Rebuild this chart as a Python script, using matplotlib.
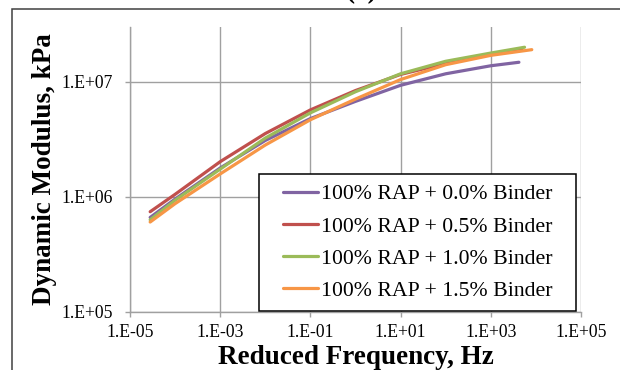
import matplotlib
matplotlib.use('Agg')
import matplotlib.pyplot as plt
from matplotlib.patches import Rectangle

plt.rcParams['font.family'] = ['Liberation Serif', 'DejaVu Serif']

# reduced frequency (Hz) and dynamic modulus (kPa)
freq_00 = [2.8e-5, 1e-4, 1e-3, 1e-2, 1e-1, 1, 10, 100, 1000, 4.2e3]
mod_00 = [6.61e5, 9.55e5, 1.78e6, 3.09e6, 4.79e6, 6.76e6, 9.33e6, 1.175e7, 1.38e7, 1.48e7]

freq_05 = [2.8e-5, 1e-4, 1e-3, 1e-2, 1e-1, 1, 10, 100, 1000, 5.0e3]
mod_05 = [7.41e5, 1.05e6, 2.02e6, 3.55e6, 5.7e6, 8.4e6, 1.16e7, 1.445e7, 1.74e7, 1.95e7]

freq_10 = [2.8e-5, 1e-4, 1e-3, 1e-2, 1e-1, 1, 10, 100, 1000, 5.6e3]
mod_10 = [6.31e5, 9.33e5, 1.74e6, 3.24e6, 5.37e6, 8.2e6, 1.175e7, 1.51e7, 1.78e7, 2.0e7]

freq_15 = [2.8e-5, 1e-4, 1e-3, 1e-2, 1e-1, 1, 10, 100, 1000, 8.1e3]
mod_15 = [6.03e5, 8.71e5, 1.58e6, 2.82e6, 4.68e6, 7.08e6, 1.047e7, 1.41e7, 1.70e7, 1.905e7]

labels = ['100% RAP + 0.0% Binder', '100% RAP + 0.5% Binder',
          '100% RAP + 1.0% Binder', '100% RAP + 1.5% Binder']
colors = ['#8064A2', '#C0504D', '#9BBB59', '#F79646']

xticks = [1e-5, 1e-3, 1e-1, 1e1, 1e3, 1e5]
xticklabels = ['1.E-05', '1.E-03', '1.E-01', '1.E+01', '1.E+03', '1.E+05']
yticks = [1e5, 1e6, 1e7]
yticklabels = ['1.E+05', '1.E+06', '1.E+07']

fig = plt.figure(figsize=(6.2, 3.7), dpi=100)
ax = fig.add_axes([130/620, 1-311.7/370, 451/620, 284.7/370])

series = [(freq_00, mod_00), (freq_05, mod_05), (freq_10, mod_10), (freq_15, mod_15)]
for (f, m), lab, c in zip(series, labels, colors):
    ax.plot(f, m, color=c, lw=2.3, label=lab, solid_capstyle='round',
            solid_joinstyle='round', zorder=3)

ax.set_xscale('log')
ax.set_yscale('log')
ax.set_xlim(1e-5, 1e5)
ax.set_ylim(1e5, 3e7)
ax.set_xticks(xticks)
ax.set_xticklabels(xticklabels)
ax.set_yticks(yticks)
ax.set_yticklabels(yticklabels)
ax.minorticks_off()
ax.grid(True, color='#A0A0A0', lw=1.0)
ax.set_axisbelow(True)
for s in ['top', 'right']:
    ax.spines[s].set_visible(False)
for s in ['left', 'bottom']:
    ax.spines[s].set_color('#A0A0A0')
    ax.spines[s].set_linewidth(1.0)
ax.tick_params(axis='both', direction='out', length=3.6, color='#A0A0A0',
               labelsize=12.7, width=1.0)
ax.tick_params(axis='y', pad=9)
ax.tick_params(axis='x', pad=5)

ax.set_xlabel('Reduced Frequency, Hz', fontsize=19.5, fontweight='bold', labelpad=3)
ax.set_ylabel('Dynamic Modulus, kPa', fontsize=19.5, fontweight='bold', labelpad=3)

# legend box
box = Rectangle((0.286, 0.0025), 0.703, 0.4815, transform=ax.transAxes,
                facecolor='white', edgecolor='black', lw=1.1, zorder=4)
ax.add_patch(box)
leg = ax.legend(loc='center', bbox_to_anchor=(0.6375, 0.243), frameon=False,
                fontsize=15.7, handlelength=1.6, handletextpad=0.15,
                labelspacing=0.55, borderpad=0.2)
leg.set_zorder(5)

# outer chart frame
fig.patches.append(Rectangle((12/620, -0.1), 1.2, 1.1 - 9/370, transform=fig.transFigure,
                             fill=False, edgecolor='#404040', lw=1.1))
fig.text(362/620, 1.005, '(a)', ha='center', va='baseline', fontsize=19.5, fontweight='bold')

fig.savefig('out.png', dpi=100)
